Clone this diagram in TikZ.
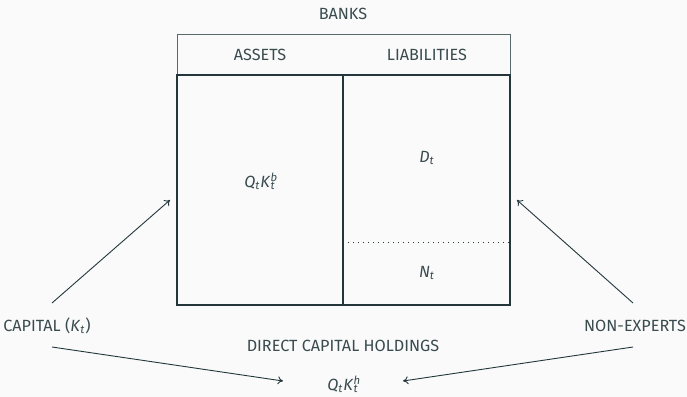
\documentclass[tikz,border=0pt]{standalone}
\usepackage{fontspec}
\setmainfont{Fira Sans}
\usetikzlibrary{arrows.meta}
\definecolor{mdark}{HTML}{23373B}
\definecolor{bgc}{HTML}{FAFAFA}
\newcommand{\iv}[1]{\textit{#1}}
\newcommand{\sbsp}[3]{\iv{#1}\makebox[0pt][l]{\textsuperscript{\iv{#3}}}\textsubscript{\iv{#2}}}
\tikzset{
  lbl/.style={font=\fontsize{8.1}{9.5}\selectfont, text=mdark!90, inner sep=1pt},
  thinbox/.style={draw=mdark!75, line width=0.4pt},
  thickbox/.style={draw=mdark, line width=0.75pt},
  arr/.style={draw=mdark, line width=0.45pt, -{To[length=2.6pt,width=4pt]}}
}
\begin{document}
\begin{tikzpicture}[x=0.5pt,y=-0.5pt]
\fill[bgc] (0,0) rectangle (687,397);
\useasboundingbox (0,0) rectangle (687,397);
% box geometry
\coordinate (tl) at (177,34);
\coordinate (tr) at (510,34);
\coordinate (ml) at (177,75);
\coordinate (mr) at (510,75);
\coordinate (mm) at (343,75);
\coordinate (bl) at (177,305);
\coordinate (br) at (510,305);
\coordinate (bm) at (343,305);
\coordinate (dl) at (343,242);
\coordinate (dr) at (510,242);
\draw[thinbox] (ml) -- (tl) -- (tr) -- (mr);
\draw[thickbox] (ml) rectangle (br);
\draw[thickbox] (mm) -- (bm);
\draw[mdark, line width=0.5pt, dotted] (dl) -- (dr);
% labels
\node[lbl] (banks) at (343,14) {BANKS};
\node[lbl] (assets) at (260,55) {ASSETS};
\node[lbl] (liab) at (427,55) {LIABILITIES};
\node[lbl] (qkb) at (260,181) {\sbsp{Q}{t}{}\sbsp{K}{t}{b}};
\node[lbl] (dt) at (427,158) {\sbsp{D}{t}{}};
\node[lbl] (nt) at (427,273) {\sbsp{N}{t}{}};
\node[lbl] (capital) at (47,326) {CAPITAL (\sbsp{K}{t}{})};
\node[lbl] (nonexp) at (635,326) {NON-EXPERTS};
\node[lbl] (direct) at (343,346) {DIRECT CAPITAL HOLDINGS};
\node[lbl] (qkh) at (343,384) {\sbsp{Q}{t}{}\sbsp{K}{t}{h}};
% arrow endpoints
\coordinate (c1) at (52,303);
\coordinate (c2) at (52,347);
\coordinate (n1) at (633,303);
\coordinate (n2) at (633,347);
\coordinate (e1) at (170,200);
\coordinate (e2) at (517,200);
\coordinate (h1) at (283,381);
\coordinate (h2) at (403,381);
\draw[arr] (c1) -- (e1);
\draw[arr] (n1) -- (e2);
\draw[arr] (c2) -- (h1);
\draw[arr] (n2) -- (h2);
\end{tikzpicture}
\end{document}
